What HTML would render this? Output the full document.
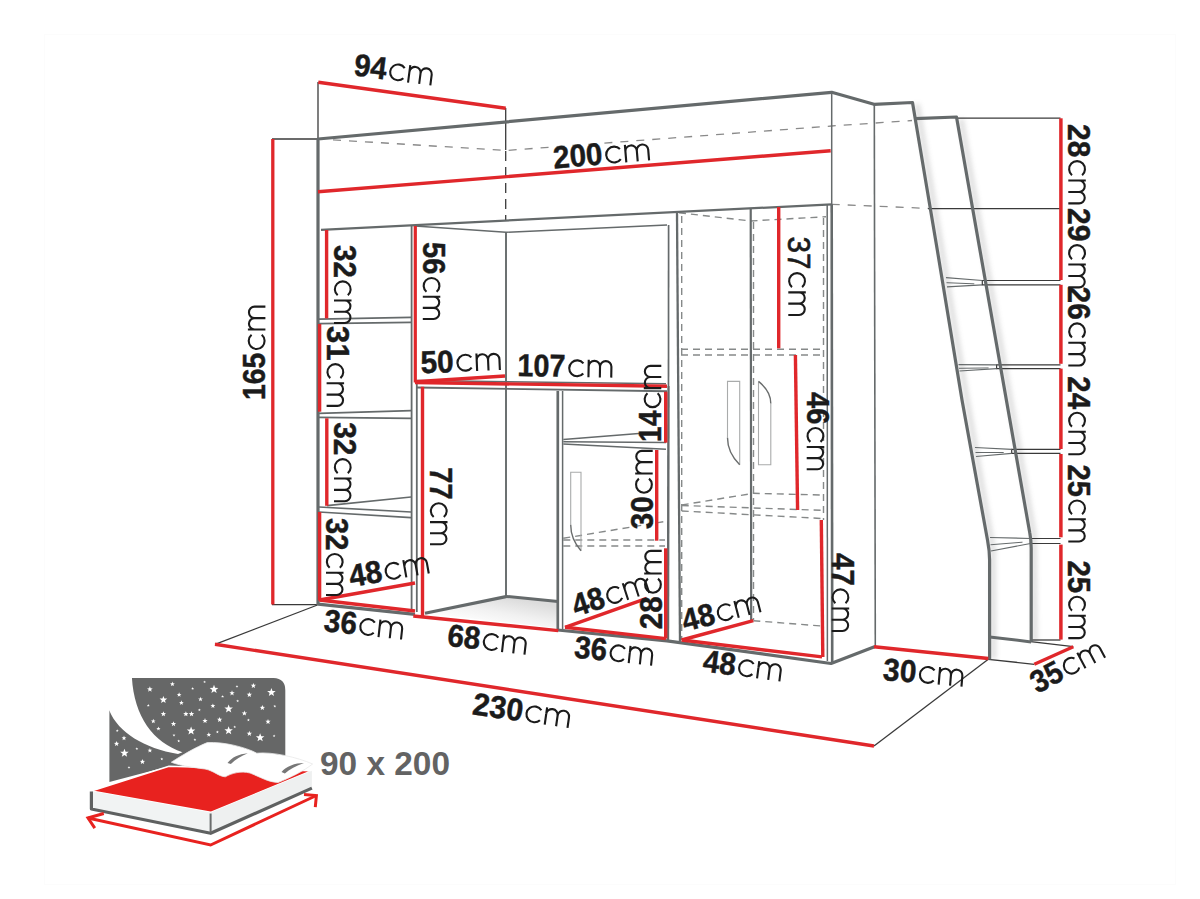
<!DOCTYPE html>
<html><head><meta charset="utf-8"><title>Loft bed dimensions</title>
<style>
html,body{margin:0;padding:0;background:#fff;}
body{width:1200px;height:899px;overflow:hidden;font-family:"Liberation Sans",sans-serif;}
svg{display:block;}
svg text{font-family:"Liberation Sans",sans-serif;}
</style></head>
<body>
<svg width="1200" height="899" viewBox="0 0 1200 899">
<defs>
<filter id="blur" x="-20%" y="-5%" width="140%" height="110%"><feGaussianBlur stdDeviation="2.5"/></filter>
<linearGradient id="floorg" gradientUnits="userSpaceOnUse" x1="500" y1="596" x2="494" y2="628"><stop offset="0" stop-color="#dcdcdc"/><stop offset="0.5" stop-color="#f1f1f1"/><stop offset="1" stop-color="#ffffff"/></linearGradient>
</defs>
<rect width="1200" height="899" fill="#ffffff"/>
<rect x="44.5" y="34.5" width="1131" height="850" fill="none" stroke="#fcfcfc" stroke-width="1"/>
<g filter="url(#blur)" opacity="0.26">
<path d="M917,104 L967,400 L993,550 L993.5,659" stroke="#777" stroke-width="5" fill="none" stroke-linejoin="round" stroke-linecap="butt"/>
<path d="M961,119 L1034,535 L1035,642" stroke="#777" stroke-width="5" fill="none" stroke-linejoin="round" stroke-linecap="butt"/>
</g>
<polygon points="425,613.5 506,596.8 557,602 557,628" fill="url(#floorg)"/>
<line x1="318" y1="82" x2="318" y2="139" stroke="#3a3a3a" stroke-width="1.3" stroke-linecap="butt"/>
<line x1="505.7" y1="108" x2="505.7" y2="150" stroke="#3a3a3a" stroke-width="1.3" stroke-linecap="butt"/>
<line x1="505.7" y1="151" x2="505.7" y2="221" stroke="#3a3a3a" stroke-width="1.3" stroke-linecap="butt" stroke-dasharray="10 6"/>
<line x1="272" y1="139" x2="318" y2="139" stroke="#3a3a3a" stroke-width="1.3" stroke-linecap="butt"/>
<line x1="272" y1="604.6" x2="318" y2="604.6" stroke="#3a3a3a" stroke-width="1.3" stroke-linecap="butt"/>
<line x1="317.5" y1="605" x2="215" y2="644.3" stroke="#3a3a3a" stroke-width="1.3" stroke-linecap="butt"/>
<line x1="988.3" y1="659.3" x2="874" y2="746" stroke="#3a3a3a" stroke-width="1.3" stroke-linecap="butt"/>
<line x1="988.3" y1="659.3" x2="1034.3" y2="664.3" stroke="#3a3a3a" stroke-width="1.3" stroke-linecap="butt"/>
<line x1="1030.7" y1="641.7" x2="1073.3" y2="646.7" stroke="#3a3a3a" stroke-width="1.3" stroke-linecap="butt"/>
<line x1="957" y1="118.2" x2="1060.5" y2="118.2" stroke="#3a3a3a" stroke-width="1.3" stroke-linecap="butt"/>
<line x1="928" y1="208.6" x2="1060.5" y2="208.6" stroke="#3a3a3a" stroke-width="1.3" stroke-linecap="butt"/>
<line x1="1030.7" y1="640" x2="1060.5" y2="640" stroke="#3a3a3a" stroke-width="1.3" stroke-linecap="butt"/>
<path d="M1060.5,280.5 L982.3,280.5 L982.3,284.8 L1060.5,284.8" stroke="#3a3a3a" stroke-width="1.2" fill="none" stroke-linejoin="miter" stroke-linecap="butt"/>
<line x1="946" y1="277.6" x2="982.3" y2="280.5" stroke="#656a6b" stroke-width="1.2" stroke-linecap="butt"/>
<line x1="947" y1="286.8" x2="982.3" y2="284.8" stroke="#656a6b" stroke-width="1.2" stroke-linecap="butt"/>
<line x1="946.5" y1="282.70000000000005" x2="974.3" y2="283.84999999999997" stroke="#656a6b" stroke-width="1" stroke-linecap="butt"/>
<path d="M1060.5,364.9 L996.6,364.9 L996.6,368.6 L1060.5,368.6" stroke="#3a3a3a" stroke-width="1.2" fill="none" stroke-linejoin="miter" stroke-linecap="butt"/>
<line x1="958.5" y1="364.6" x2="996.6" y2="364.9" stroke="#656a6b" stroke-width="1.2" stroke-linecap="butt"/>
<line x1="959.5" y1="371" x2="996.6" y2="368.6" stroke="#656a6b" stroke-width="1.2" stroke-linecap="butt"/>
<line x1="959.0" y1="368.3" x2="988.6" y2="367.95" stroke="#656a6b" stroke-width="1" stroke-linecap="butt"/>
<path d="M1060.5,449.3 L1011.7,449.3 L1011.7,453.3 L1060.5,453.3" stroke="#3a3a3a" stroke-width="1.2" fill="none" stroke-linejoin="miter" stroke-linecap="butt"/>
<line x1="975" y1="447.5" x2="1011.7" y2="449.3" stroke="#656a6b" stroke-width="1.2" stroke-linecap="butt"/>
<line x1="976" y1="456.5" x2="1011.7" y2="453.3" stroke="#656a6b" stroke-width="1.2" stroke-linecap="butt"/>
<line x1="975.5" y1="452.5" x2="1003.7" y2="452.5" stroke="#656a6b" stroke-width="1" stroke-linecap="butt"/>
<path d="M1060.5,538.5 L1030.5,538.5 L1030.5,543.5 L1060.5,543.5" stroke="#3a3a3a" stroke-width="1.2" fill="none" stroke-linejoin="miter" stroke-linecap="butt"/>
<line x1="990" y1="537.5" x2="1030.5" y2="538.5" stroke="#656a6b" stroke-width="1.2" stroke-linecap="butt"/>
<line x1="991" y1="551" x2="1030.5" y2="543.5" stroke="#656a6b" stroke-width="1.2" stroke-linecap="butt"/>
<line x1="990.5" y1="544.75" x2="1022.5" y2="542.2" stroke="#656a6b" stroke-width="1" stroke-linecap="butt"/>
<path d="M333,139.8 L505.7,150.5 L831.7,126 L912,120.5" stroke="#8a8a8a" stroke-width="1.3" fill="none" stroke-linejoin="round" stroke-linecap="butt" stroke-dasharray="8 8"/>
<line x1="831.7" y1="204.3" x2="928" y2="208.4" stroke="#8a8a8a" stroke-width="1.3" stroke-linecap="butt" stroke-dasharray="8 8"/>
<path d="M679,212.7 L750.5,221 L826,216.7" stroke="#868989" stroke-width="1.4" fill="none" stroke-linejoin="round" stroke-linecap="butt" stroke-dasharray="7 5"/>
<line x1="681.7" y1="216" x2="681.7" y2="640" stroke="#868989" stroke-width="1.4" stroke-linecap="butt" stroke-dasharray="7 5"/>
<line x1="753.5" y1="222" x2="753.5" y2="620" stroke="#868989" stroke-width="1.4" stroke-linecap="butt" stroke-dasharray="7 5"/>
<line x1="823.5" y1="218" x2="823.5" y2="520" stroke="#868989" stroke-width="1.4" stroke-linecap="butt" stroke-dasharray="7 5"/>
<line x1="681" y1="349.3" x2="824" y2="349.3" stroke="#868989" stroke-width="1.4" stroke-linecap="butt" stroke-dasharray="7 5"/>
<line x1="681" y1="355" x2="824" y2="355" stroke="#868989" stroke-width="1.4" stroke-linecap="butt" stroke-dasharray="7 5"/>
<path d="M681.7,505 L753.3,493.3 L821.7,495" stroke="#868989" stroke-width="1.4" fill="none" stroke-linejoin="round" stroke-linecap="butt" stroke-dasharray="7 5"/>
<line x1="681.7" y1="505.5" x2="821.7" y2="510.3" stroke="#868989" stroke-width="1.4" stroke-linecap="butt" stroke-dasharray="7 5"/>
<line x1="681.7" y1="511" x2="821.7" y2="518.5" stroke="#868989" stroke-width="1.4" stroke-linecap="butt" stroke-dasharray="7 5"/>
<line x1="753.3" y1="620.7" x2="821.7" y2="626" stroke="#868989" stroke-width="1.4" stroke-linecap="butt" stroke-dasharray="7 5"/>
<line x1="563.3" y1="538.3" x2="663.3" y2="521.7" stroke="#868989" stroke-width="1.4" stroke-linecap="butt" stroke-dasharray="7 5"/>
<line x1="563.3" y1="540" x2="665" y2="540" stroke="#868989" stroke-width="1.4" stroke-linecap="butt" stroke-dasharray="7 5"/>
<line x1="563.3" y1="546" x2="665" y2="546" stroke="#868989" stroke-width="1.4" stroke-linecap="butt" stroke-dasharray="7 5"/>
<line x1="831.7" y1="92.3" x2="831.7" y2="205" stroke="#656a6b" stroke-width="1.5" stroke-linecap="butt"/>
<line x1="874.3" y1="104.3" x2="875.3" y2="647" stroke="#656a6b" stroke-width="1.6" stroke-linecap="butt"/>
<line x1="506" y1="232" x2="506" y2="596.5" stroke="#656a6b" stroke-width="1.9" stroke-linecap="butt"/>
<line x1="321" y1="229.8" x2="831.7" y2="204.3" stroke="#656a6b" stroke-width="2.2" stroke-linecap="butt"/>
<path d="M415,226 L506,232.3 L667,225" stroke="#656a6b" stroke-width="1.5" fill="none" stroke-linejoin="round" stroke-linecap="butt"/>
<line x1="411.6" y1="226" x2="411.6" y2="611.5" stroke="#656a6b" stroke-width="1.8" stroke-linecap="butt"/>
<line x1="416.8" y1="382" x2="416.8" y2="612" stroke="#656a6b" stroke-width="1.8" stroke-linecap="butt"/>
<line x1="319" y1="319.2" x2="411" y2="317.4" stroke="#656a6b" stroke-width="1.7" stroke-linecap="butt"/>
<line x1="319" y1="323.6" x2="411" y2="322.4" stroke="#656a6b" stroke-width="1.7" stroke-linecap="butt"/>
<line x1="319" y1="413.3" x2="411" y2="410.7" stroke="#656a6b" stroke-width="1.7" stroke-linecap="butt"/>
<line x1="319" y1="417.3" x2="411" y2="418.3" stroke="#656a6b" stroke-width="1.7" stroke-linecap="butt"/>
<line x1="327" y1="505.6" x2="411" y2="497" stroke="#656a6b" stroke-width="1.7" stroke-linecap="butt"/>
<line x1="319" y1="507" x2="411" y2="512" stroke="#656a6b" stroke-width="1.7" stroke-linecap="butt"/>
<line x1="319" y1="512" x2="411" y2="517.6" stroke="#656a6b" stroke-width="1.7" stroke-linecap="butt"/>
<line x1="416.7" y1="380.5" x2="666" y2="383.8" stroke="#656a6b" stroke-width="1.5" stroke-linecap="butt"/>
<line x1="416.7" y1="387.5" x2="667" y2="391.3" stroke="#656a6b" stroke-width="1.9" stroke-linecap="butt"/>
<line x1="557.8" y1="391" x2="557.8" y2="631" stroke="#656a6b" stroke-width="2.7" stroke-linecap="butt"/>
<line x1="562.6" y1="391" x2="562.6" y2="629" stroke="#656a6b" stroke-width="1.5" stroke-linecap="butt"/>
<line x1="668.6" y1="225" x2="668.5" y2="386" stroke="#656a6b" stroke-width="1.7" stroke-linecap="butt"/>
<line x1="668.5" y1="386" x2="668" y2="641" stroke="#656a6b" stroke-width="2.4" stroke-linecap="butt"/>
<line x1="563.3" y1="439.6" x2="642" y2="433.3" stroke="#656a6b" stroke-width="1.5" stroke-linecap="butt"/>
<line x1="563.3" y1="441.7" x2="666" y2="442.5" stroke="#656a6b" stroke-width="1.5" stroke-linecap="butt"/>
<line x1="563.3" y1="444" x2="666" y2="449.3" stroke="#656a6b" stroke-width="1.5" stroke-linecap="butt"/>
<line x1="677" y1="213" x2="680" y2="641.5" stroke="#656a6b" stroke-width="2.3" stroke-linecap="butt"/>
<line x1="750.7" y1="208.5" x2="751.2" y2="621" stroke="#656a6b" stroke-width="2.2" stroke-linecap="butt"/>
<line x1="827.2" y1="204.5" x2="827.4" y2="661" stroke="#656a6b" stroke-width="1.5" stroke-linecap="butt"/>
<line x1="831.7" y1="204.3" x2="832.2" y2="663.5" stroke="#656a6b" stroke-width="2.6" stroke-linecap="butt"/>
<line x1="318" y1="604.2" x2="415" y2="614.4" stroke="#656a6b" stroke-width="3.2" stroke-linecap="butt"/>
<line x1="425" y1="613.3" x2="506" y2="596.6" stroke="#656a6b" stroke-width="3.2" stroke-linecap="butt"/>
<line x1="506" y1="596.4" x2="558" y2="601.5" stroke="#656a6b" stroke-width="3" stroke-linecap="butt"/>
<path d="M557.5,630 L667,640.8 L831,663.5 L874.5,646.7" stroke="#656a6b" stroke-width="3.2" fill="none" stroke-linejoin="round" stroke-linecap="butt"/>
<path d="M318,605 L318,139 L831.7,92.3 L874,104.3 L912.5,102.5 L937.3,250 L962,400 L987.5,540 Q989.6,551 989.6,560 L989.6,659.5" stroke="#656a6b" stroke-width="3.2" fill="none" stroke-linejoin="round" stroke-linecap="butt"/>
<path d="M915,118.6 L956.5,117 L1029.8,533 Q1031.2,540 1031.2,548 L1031.2,642" stroke="#656a6b" stroke-width="3.2" fill="none" stroke-linejoin="round" stroke-linecap="butt"/>
<line x1="989.6" y1="637" x2="1031.2" y2="641.9" stroke="#656a6b" stroke-width="3" stroke-linecap="butt"/>
<path d="M727.5,437.8 L727.5,381.4 L739.7,381.4 L739.7,464.8" stroke="#a9abab" stroke-width="1.1" fill="none" stroke-linejoin="miter" stroke-linecap="butt"/>
<path d="M727.5,437.8 Q727.5,452.65000000000003 739.7,464.8" stroke="#6a6d6d" stroke-width="1.4" fill="none" stroke-linejoin="round" stroke-linecap="butt"/>
<path d="M770.8,403.4 L770.8,464.8 L758.5,464.8 L758.5,381.4" stroke="#a9abab" stroke-width="1.1" fill="none" stroke-linejoin="miter" stroke-linecap="butt"/>
<path d="M758.5,381.4 Q770.8,391.29999999999995 770.8,403.4" stroke="#6a6d6d" stroke-width="1.4" fill="none" stroke-linejoin="round" stroke-linecap="butt"/>
<path d="M570.7,524.8 L570.7,472.3 L581,472.3 L581,550.8" stroke="#a9abab" stroke-width="1.1" fill="none" stroke-linejoin="miter" stroke-linecap="butt"/>
<path d="M570.7,524.8 Q570.7,539.0999999999999 581,550.8" stroke="#6a6d6d" stroke-width="1.4" fill="none" stroke-linejoin="round" stroke-linecap="butt"/>
<line x1="318.3" y1="82.3" x2="505.7" y2="108.3" stroke="#e0272b" stroke-width="3.4" stroke-linecap="butt"/>
<line x1="318" y1="191.7" x2="830.7" y2="150.7" stroke="#e0272b" stroke-width="3.4" stroke-linecap="butt"/>
<line x1="272.8" y1="139" x2="272.8" y2="604.5" stroke="#e0272b" stroke-width="3.3" stroke-linecap="butt"/>
<line x1="326.6" y1="230" x2="326.6" y2="318.4" stroke="#e0272b" stroke-width="3.4" stroke-linecap="butt"/>
<line x1="319.6" y1="324" x2="319.6" y2="411.7" stroke="#e0272b" stroke-width="3.4" stroke-linecap="butt"/>
<line x1="326.8" y1="418.3" x2="326.8" y2="505.8" stroke="#e0272b" stroke-width="3.4" stroke-linecap="butt"/>
<line x1="319.6" y1="512" x2="319.6" y2="600.5" stroke="#e0272b" stroke-width="3.4" stroke-linecap="butt"/>
<line x1="415.3" y1="226" x2="415.3" y2="382.5" stroke="#e0272b" stroke-width="3.2" stroke-linecap="butt"/>
<line x1="415" y1="381.7" x2="505" y2="376" stroke="#e0272b" stroke-width="3.4" stroke-linecap="butt"/>
<line x1="415" y1="382.5" x2="667" y2="386.3" stroke="#e0272b" stroke-width="3.4" stroke-linecap="butt"/>
<line x1="422.5" y1="386.7" x2="422.5" y2="616" stroke="#e0272b" stroke-width="3.4" stroke-linecap="butt"/>
<line x1="319.4" y1="600" x2="415" y2="583" stroke="#e0272b" stroke-width="3.4" stroke-linecap="butt"/>
<line x1="319.4" y1="600" x2="415" y2="611" stroke="#e0272b" stroke-width="3.4" stroke-linecap="butt"/>
<line x1="413.3" y1="616" x2="558.3" y2="630.6" stroke="#e0272b" stroke-width="3.4" stroke-linecap="butt"/>
<line x1="665.7" y1="391.7" x2="665.7" y2="442.7" stroke="#e0272b" stroke-width="3.4" stroke-linecap="butt"/>
<line x1="656.7" y1="450" x2="656.7" y2="540.7" stroke="#e0272b" stroke-width="3.4" stroke-linecap="butt"/>
<line x1="665.7" y1="548.3" x2="665.7" y2="638.6" stroke="#e0272b" stroke-width="3.4" stroke-linecap="butt"/>
<line x1="565" y1="627.3" x2="646.7" y2="598.3" stroke="#e0272b" stroke-width="3.4" stroke-linecap="butt"/>
<line x1="565" y1="627.3" x2="666" y2="638.6" stroke="#e0272b" stroke-width="3.4" stroke-linecap="butt"/>
<line x1="778.7" y1="207" x2="778.7" y2="348.3" stroke="#e0272b" stroke-width="3.4" stroke-linecap="butt"/>
<line x1="795.4" y1="355" x2="797.6" y2="510" stroke="#e0272b" stroke-width="3.4" stroke-linecap="butt"/>
<line x1="821.3" y1="520" x2="822.8" y2="657" stroke="#e0272b" stroke-width="3.4" stroke-linecap="butt"/>
<line x1="681.7" y1="640" x2="753.3" y2="620.7" stroke="#e0272b" stroke-width="3.4" stroke-linecap="butt"/>
<line x1="681.7" y1="640" x2="822" y2="656.9" stroke="#e0272b" stroke-width="3.4" stroke-linecap="butt"/>
<line x1="874" y1="646.7" x2="988.3" y2="658.5" stroke="#e0272b" stroke-width="3.4" stroke-linecap="butt"/>
<line x1="1073.3" y1="646.7" x2="1034.3" y2="664.3" stroke="#e0272b" stroke-width="3.4" stroke-linecap="butt"/>
<line x1="215" y1="644.3" x2="874" y2="746" stroke="#e0272b" stroke-width="3.4" stroke-linecap="butt"/>
<line x1="1060.9" y1="118.3" x2="1060.9" y2="280" stroke="#e0272b" stroke-width="3.5" stroke-linecap="butt"/>
<line x1="1060.9" y1="284.8" x2="1060.9" y2="363.8" stroke="#e0272b" stroke-width="3.5" stroke-linecap="butt"/>
<line x1="1060.9" y1="368.6" x2="1060.9" y2="449" stroke="#e0272b" stroke-width="3.5" stroke-linecap="butt"/>
<line x1="1060.9" y1="454" x2="1060.9" y2="537.3" stroke="#e0272b" stroke-width="3.5" stroke-linecap="butt"/>
<line x1="1060.9" y1="544.6" x2="1060.9" y2="639.6" stroke="#e0272b" stroke-width="3.5" stroke-linecap="butt"/>
<g transform="translate(354,75.5) rotate(7.4) scale(0.9981,1)"><text x="-1" y="0" font-size="31.5" font-weight="700" stroke="#1b1b1b" stroke-width="0.45" fill="#1b1b1b" textLength="32.8" lengthAdjust="spacingAndGlyphs">94</text><path d="M49.40,-13.83 A7.90,7.90 0 1 0 49.40,-3.67 M54.60,0 L54.60,-17.50 M54.60,-10.82 A5.62,5.62 0 0 1 65.85,-10.82 L65.85,0 M65.85,-10.82 A5.62,5.62 0 0 1 77.10,-10.82 L77.10,0" stroke="#1b1b1b" stroke-width="2.1" fill="none" stroke-linecap="butt" stroke-linejoin="round"/></g>
<g transform="translate(555,168.3) rotate(-4.8) scale(1.0154,1)"><text x="-1" y="0" font-size="31.5" font-weight="700" stroke="#1b1b1b" stroke-width="0.45" fill="#1b1b1b" textLength="48.7" lengthAdjust="spacingAndGlyphs">200</text><path d="M65.30,-13.83 A7.90,7.90 0 1 0 65.30,-3.67 M70.50,0 L70.50,-17.50 M70.50,-10.82 A5.62,5.62 0 0 1 81.75,-10.82 L81.75,0 M81.75,-10.82 A5.62,5.62 0 0 1 93.00,-10.82 L93.00,0" stroke="#1b1b1b" stroke-width="2.1" fill="none" stroke-linecap="butt" stroke-linejoin="round"/></g>
<g transform="translate(265.4,399) rotate(-90) scale(1.0158,1)"><text x="-1" y="0" font-size="31.5" font-weight="700" stroke="#1b1b1b" stroke-width="0.45" fill="#1b1b1b" textLength="46.6" lengthAdjust="spacingAndGlyphs">165</text><path d="M63.20,-13.83 A7.90,7.90 0 1 0 63.20,-3.67 M68.40,0 L68.40,-17.50 M68.40,-10.82 A5.62,5.62 0 0 1 79.65,-10.82 L79.65,0 M79.65,-10.82 A5.62,5.62 0 0 1 90.90,-10.82 L90.90,0" stroke="#1b1b1b" stroke-width="2.1" fill="none" stroke-linecap="butt" stroke-linejoin="round"/></g>
<g transform="translate(334,246) rotate(90) scale(0.9981,1)"><text x="-1" y="0" font-size="31.5" font-weight="700" stroke="#1b1b1b" stroke-width="0.45" fill="#1b1b1b" textLength="32.8" lengthAdjust="spacingAndGlyphs">32</text><path d="M49.40,-13.83 A7.90,7.90 0 1 0 49.40,-3.67 M54.60,0 L54.60,-17.50 M54.60,-10.82 A5.62,5.62 0 0 1 65.85,-10.82 L65.85,0 M65.85,-10.82 A5.62,5.62 0 0 1 77.10,-10.82 L77.10,0" stroke="#1b1b1b" stroke-width="2.1" fill="none" stroke-linecap="butt" stroke-linejoin="round"/></g>
<g transform="translate(422.8,243) rotate(90) scale(0.9853,1)"><text x="-1" y="0" font-size="31.5" font-weight="700" stroke="#1b1b1b" stroke-width="0.45" fill="#1b1b1b" textLength="32.8" lengthAdjust="spacingAndGlyphs">56</text><path d="M49.40,-13.83 A7.90,7.90 0 1 0 49.40,-3.67 M54.60,0 L54.60,-17.50 M54.60,-10.82 A5.62,5.62 0 0 1 65.85,-10.82 L65.85,0 M65.85,-10.82 A5.62,5.62 0 0 1 77.10,-10.82 L77.10,0" stroke="#1b1b1b" stroke-width="2.1" fill="none" stroke-linecap="butt" stroke-linejoin="round"/></g>
<g transform="translate(326.6,326.9) rotate(90) scale(1.0019,1)"><text x="-1" y="0" font-size="31.5" font-weight="700" stroke="#1b1b1b" stroke-width="0.45" fill="#1b1b1b" textLength="34.5" lengthAdjust="spacingAndGlyphs">31</text><path d="M51.10,-13.83 A7.90,7.90 0 1 0 51.10,-3.67 M56.30,0 L56.30,-17.50 M56.30,-10.82 A5.62,5.62 0 0 1 67.55,-10.82 L67.55,0 M67.55,-10.82 A5.62,5.62 0 0 1 78.80,-10.82 L78.80,0" stroke="#1b1b1b" stroke-width="2.1" fill="none" stroke-linecap="butt" stroke-linejoin="round"/></g>
<g transform="translate(422,373.3) rotate(-2.4) scale(1.0109,1)"><text x="-1" y="0" font-size="31.5" font-weight="700" stroke="#1b1b1b" stroke-width="0.45" fill="#1b1b1b" textLength="32.8" lengthAdjust="spacingAndGlyphs">50</text><path d="M49.40,-13.83 A7.90,7.90 0 1 0 49.40,-3.67 M54.60,0 L54.60,-17.50 M54.60,-10.82 A5.62,5.62 0 0 1 65.85,-10.82 L65.85,0 M65.85,-10.82 A5.62,5.62 0 0 1 77.10,-10.82 L77.10,0" stroke="#1b1b1b" stroke-width="2.1" fill="none" stroke-linecap="butt" stroke-linejoin="round"/></g>
<g transform="translate(518.3,376) rotate(1) scale(1.0124,1)"><text x="-1" y="0" font-size="31.5" font-weight="700" stroke="#1b1b1b" stroke-width="0.45" fill="#1b1b1b" textLength="47.5" lengthAdjust="spacingAndGlyphs">107</text><path d="M64.10,-13.83 A7.90,7.90 0 1 0 64.10,-3.67 M69.30,0 L69.30,-17.50 M69.30,-10.82 A5.62,5.62 0 0 1 80.55,-10.82 L80.55,0 M80.55,-10.82 A5.62,5.62 0 0 1 91.80,-10.82 L91.80,0" stroke="#1b1b1b" stroke-width="2.1" fill="none" stroke-linecap="butt" stroke-linejoin="round"/></g>
<g transform="translate(788.3,237.5) rotate(90) scale(1.0045,1)"><text x="-1" y="0" font-size="31.5" font-weight="400" stroke="#1b1b1b" stroke-width="0.7" fill="#1b1b1b" textLength="32.8" lengthAdjust="spacingAndGlyphs">37</text><path d="M49.40,-13.83 A7.90,7.90 0 1 0 49.40,-3.67 M54.60,0 L54.60,-17.50 M54.60,-10.82 A5.62,5.62 0 0 1 65.85,-10.82 L65.85,0 M65.85,-10.82 A5.62,5.62 0 0 1 77.10,-10.82 L77.10,0" stroke="#1b1b1b" stroke-width="2.1" fill="none" stroke-linecap="butt" stroke-linejoin="round"/></g>
<g transform="translate(661.3,441) rotate(-90) scale(0.9915,1)"><text x="-1" y="0" font-size="31.5" font-weight="700" stroke="#1b1b1b" stroke-width="0.45" fill="#1b1b1b" textLength="31.5" lengthAdjust="spacingAndGlyphs">14</text><path d="M48.10,-13.83 A7.90,7.90 0 1 0 48.10,-3.67 M53.30,0 L53.30,-17.50 M53.30,-10.82 A5.62,5.62 0 0 1 64.55,-10.82 L64.55,0 M64.55,-10.82 A5.62,5.62 0 0 1 75.80,-10.82 L75.80,0" stroke="#1b1b1b" stroke-width="2.1" fill="none" stroke-linecap="butt" stroke-linejoin="round"/></g>
<g transform="translate(806.7,393) rotate(90) scale(0.9891,1)"><text x="-1" y="0" font-size="31.5" font-weight="700" stroke="#1b1b1b" stroke-width="0.45" fill="#1b1b1b" textLength="32.8" lengthAdjust="spacingAndGlyphs">46</text><path d="M49.40,-13.83 A7.90,7.90 0 1 0 49.40,-3.67 M54.60,0 L54.60,-17.50 M54.60,-10.82 A5.62,5.62 0 0 1 65.85,-10.82 L65.85,0 M65.85,-10.82 A5.62,5.62 0 0 1 77.10,-10.82 L77.10,0" stroke="#1b1b1b" stroke-width="2.1" fill="none" stroke-linecap="butt" stroke-linejoin="round"/></g>
<g transform="translate(334,423.3) rotate(90) scale(1.0109,1)"><text x="-1" y="0" font-size="31.5" font-weight="700" stroke="#1b1b1b" stroke-width="0.45" fill="#1b1b1b" textLength="32.8" lengthAdjust="spacingAndGlyphs">32</text><path d="M49.40,-13.83 A7.90,7.90 0 1 0 49.40,-3.67 M54.60,0 L54.60,-17.50 M54.60,-10.82 A5.62,5.62 0 0 1 65.85,-10.82 L65.85,0 M65.85,-10.82 A5.62,5.62 0 0 1 77.10,-10.82 L77.10,0" stroke="#1b1b1b" stroke-width="2.1" fill="none" stroke-linecap="butt" stroke-linejoin="round"/></g>
<g transform="translate(430,468.3) rotate(90) scale(0.9853,1)"><text x="-1" y="0" font-size="31.5" font-weight="700" stroke="#1b1b1b" stroke-width="0.45" fill="#1b1b1b" textLength="32.8" lengthAdjust="spacingAndGlyphs">77</text><path d="M49.40,-13.83 A7.90,7.90 0 1 0 49.40,-3.67 M54.60,0 L54.60,-17.50 M54.60,-10.82 A5.62,5.62 0 0 1 65.85,-10.82 L65.85,0 M65.85,-10.82 A5.62,5.62 0 0 1 77.10,-10.82 L77.10,0" stroke="#1b1b1b" stroke-width="2.1" fill="none" stroke-linecap="butt" stroke-linejoin="round"/></g>
<g transform="translate(652.7,528.3) rotate(-90) scale(1.0045,1)"><text x="-1" y="0" font-size="31.5" font-weight="700" stroke="#1b1b1b" stroke-width="0.45" fill="#1b1b1b" textLength="32.8" lengthAdjust="spacingAndGlyphs">30</text><path d="M49.40,-13.83 A7.90,7.90 0 1 0 49.40,-3.67 M54.60,0 L54.60,-17.50 M54.60,-10.82 A5.62,5.62 0 0 1 65.85,-10.82 L65.85,0 M65.85,-10.82 A5.62,5.62 0 0 1 77.10,-10.82 L77.10,0" stroke="#1b1b1b" stroke-width="2.1" fill="none" stroke-linecap="butt" stroke-linejoin="round"/></g>
<g transform="translate(326,519) rotate(90) scale(0.9853,1)"><text x="-1" y="0" font-size="31.5" font-weight="700" stroke="#1b1b1b" stroke-width="0.45" fill="#1b1b1b" textLength="32.8" lengthAdjust="spacingAndGlyphs">32</text><path d="M49.40,-13.83 A7.90,7.90 0 1 0 49.40,-3.67 M54.60,0 L54.60,-17.50 M54.60,-10.82 A5.62,5.62 0 0 1 65.85,-10.82 L65.85,0 M65.85,-10.82 A5.62,5.62 0 0 1 77.10,-10.82 L77.10,0" stroke="#1b1b1b" stroke-width="2.1" fill="none" stroke-linecap="butt" stroke-linejoin="round"/></g>
<g transform="translate(352,587) rotate(-10) scale(1.0109,1)"><text x="-1" y="0" font-size="31.5" font-weight="700" stroke="#1b1b1b" stroke-width="0.45" fill="#1b1b1b" textLength="32.8" lengthAdjust="spacingAndGlyphs">48</text><path d="M49.40,-13.83 A7.90,7.90 0 1 0 49.40,-3.67 M54.60,0 L54.60,-17.50 M54.60,-10.82 A5.62,5.62 0 0 1 65.85,-10.82 L65.85,0 M65.85,-10.82 A5.62,5.62 0 0 1 77.10,-10.82 L77.10,0" stroke="#1b1b1b" stroke-width="2.1" fill="none" stroke-linecap="butt" stroke-linejoin="round"/></g>
<g transform="translate(324,631) rotate(6.3) scale(1.0045,1)"><text x="-1" y="0" font-size="31.5" font-weight="700" stroke="#1b1b1b" stroke-width="0.45" fill="#1b1b1b" textLength="32.8" lengthAdjust="spacingAndGlyphs">36</text><path d="M49.40,-13.83 A7.90,7.90 0 1 0 49.40,-3.67 M54.60,0 L54.60,-17.50 M54.60,-10.82 A5.62,5.62 0 0 1 65.85,-10.82 L65.85,0 M65.85,-10.82 A5.62,5.62 0 0 1 77.10,-10.82 L77.10,0" stroke="#1b1b1b" stroke-width="2.1" fill="none" stroke-linecap="butt" stroke-linejoin="round"/></g>
<g transform="translate(447.5,645.8) rotate(6.5) scale(1.0045,1)"><text x="-1" y="0" font-size="31.5" font-weight="700" stroke="#1b1b1b" stroke-width="0.45" fill="#1b1b1b" textLength="32.8" lengthAdjust="spacingAndGlyphs">68</text><path d="M49.40,-13.83 A7.90,7.90 0 1 0 49.40,-3.67 M54.60,0 L54.60,-17.50 M54.60,-10.82 A5.62,5.62 0 0 1 65.85,-10.82 L65.85,0 M65.85,-10.82 A5.62,5.62 0 0 1 77.10,-10.82 L77.10,0" stroke="#1b1b1b" stroke-width="2.1" fill="none" stroke-linecap="butt" stroke-linejoin="round"/></g>
<g transform="translate(577,616.5) rotate(-18) scale(0.9853,1)"><text x="-1" y="0" font-size="31.5" font-weight="700" stroke="#1b1b1b" stroke-width="0.45" fill="#1b1b1b" textLength="32.8" lengthAdjust="spacingAndGlyphs">48</text><path d="M49.40,-13.83 A7.90,7.90 0 1 0 49.40,-3.67 M54.60,0 L54.60,-17.50 M54.60,-10.82 A5.62,5.62 0 0 1 65.85,-10.82 L65.85,0 M65.85,-10.82 A5.62,5.62 0 0 1 77.10,-10.82 L77.10,0" stroke="#1b1b1b" stroke-width="2.1" fill="none" stroke-linecap="butt" stroke-linejoin="round"/></g>
<g transform="translate(661.7,628.3) rotate(-90) scale(1.0045,1)"><text x="-1" y="0" font-size="31.5" font-weight="700" stroke="#1b1b1b" stroke-width="0.45" fill="#1b1b1b" textLength="32.8" lengthAdjust="spacingAndGlyphs">28</text><path d="M49.40,-13.83 A7.90,7.90 0 1 0 49.40,-3.67 M54.60,0 L54.60,-17.50 M54.60,-10.82 A5.62,5.62 0 0 1 65.85,-10.82 L65.85,0 M65.85,-10.82 A5.62,5.62 0 0 1 77.10,-10.82 L77.10,0" stroke="#1b1b1b" stroke-width="2.1" fill="none" stroke-linecap="butt" stroke-linejoin="round"/></g>
<g transform="translate(574.5,657.5) rotate(6) scale(0.9981,1)"><text x="-1" y="0" font-size="31.5" font-weight="700" stroke="#1b1b1b" stroke-width="0.45" fill="#1b1b1b" textLength="32.8" lengthAdjust="spacingAndGlyphs">36</text><path d="M49.40,-13.83 A7.90,7.90 0 1 0 49.40,-3.67 M54.60,0 L54.60,-17.50 M54.60,-10.82 A5.62,5.62 0 0 1 65.85,-10.82 L65.85,0 M65.85,-10.82 A5.62,5.62 0 0 1 77.10,-10.82 L77.10,0" stroke="#1b1b1b" stroke-width="2.1" fill="none" stroke-linecap="butt" stroke-linejoin="round"/></g>
<g transform="translate(686,631.5) rotate(-14.5) scale(0.9981,1)"><text x="-1" y="0" font-size="31.5" font-weight="700" stroke="#1b1b1b" stroke-width="0.45" fill="#1b1b1b" textLength="32.8" lengthAdjust="spacingAndGlyphs">48</text><path d="M49.40,-13.83 A7.90,7.90 0 1 0 49.40,-3.67 M54.60,0 L54.60,-17.50 M54.60,-10.82 A5.62,5.62 0 0 1 65.85,-10.82 L65.85,0 M65.85,-10.82 A5.62,5.62 0 0 1 77.10,-10.82 L77.10,0" stroke="#1b1b1b" stroke-width="2.1" fill="none" stroke-linecap="butt" stroke-linejoin="round"/></g>
<g transform="translate(703,671.5) rotate(7.3) scale(0.9981,1)"><text x="-1" y="0" font-size="31.5" font-weight="700" stroke="#1b1b1b" stroke-width="0.45" fill="#1b1b1b" textLength="32.8" lengthAdjust="spacingAndGlyphs">48</text><path d="M49.40,-13.83 A7.90,7.90 0 1 0 49.40,-3.67 M54.60,0 L54.60,-17.50 M54.60,-10.82 A5.62,5.62 0 0 1 65.85,-10.82 L65.85,0 M65.85,-10.82 A5.62,5.62 0 0 1 77.10,-10.82 L77.10,0" stroke="#1b1b1b" stroke-width="2.1" fill="none" stroke-linecap="butt" stroke-linejoin="round"/></g>
<g transform="translate(831.7,554) rotate(90) scale(0.9981,1)"><text x="-1" y="0" font-size="31.5" font-weight="700" stroke="#1b1b1b" stroke-width="0.45" fill="#1b1b1b" textLength="32.8" lengthAdjust="spacingAndGlyphs">47</text><path d="M49.40,-13.83 A7.90,7.90 0 1 0 49.40,-3.67 M54.60,0 L54.60,-17.50 M54.60,-10.82 A5.62,5.62 0 0 1 65.85,-10.82 L65.85,0 M65.85,-10.82 A5.62,5.62 0 0 1 77.10,-10.82 L77.10,0" stroke="#1b1b1b" stroke-width="2.1" fill="none" stroke-linecap="butt" stroke-linejoin="round"/></g>
<g transform="translate(883.3,680) rotate(4.8) scale(1.0173,1)"><text x="-1" y="0" font-size="31.5" font-weight="700" stroke="#1b1b1b" stroke-width="0.45" fill="#1b1b1b" textLength="32.8" lengthAdjust="spacingAndGlyphs">30</text><path d="M49.40,-13.83 A7.90,7.90 0 1 0 49.40,-3.67 M54.60,0 L54.60,-17.50 M54.60,-10.82 A5.62,5.62 0 0 1 65.85,-10.82 L65.85,0 M65.85,-10.82 A5.62,5.62 0 0 1 77.10,-10.82 L77.10,0" stroke="#1b1b1b" stroke-width="2.1" fill="none" stroke-linecap="butt" stroke-linejoin="round"/></g>
<g transform="translate(1038,693.5) rotate(-28) scale(0.9853,1)"><text x="-1" y="0" font-size="31.5" font-weight="700" stroke="#1b1b1b" stroke-width="0.45" fill="#1b1b1b" textLength="32.8" lengthAdjust="spacingAndGlyphs">35</text><path d="M49.40,-13.83 A7.90,7.90 0 1 0 49.40,-3.67 M54.60,0 L54.60,-17.50 M54.60,-10.82 A5.62,5.62 0 0 1 65.85,-10.82 L65.85,0 M65.85,-10.82 A5.62,5.62 0 0 1 77.10,-10.82 L77.10,0" stroke="#1b1b1b" stroke-width="2.1" fill="none" stroke-linecap="butt" stroke-linejoin="round"/></g>
<g transform="translate(472.5,714.5) rotate(8) scale(1.0227,1)"><text x="-1" y="0" font-size="31.5" font-weight="700" stroke="#1b1b1b" stroke-width="0.45" fill="#1b1b1b" textLength="49.5" lengthAdjust="spacingAndGlyphs">230</text><path d="M66.10,-13.83 A7.90,7.90 0 1 0 66.10,-3.67 M71.30,0 L71.30,-17.50 M71.30,-10.82 A5.62,5.62 0 0 1 82.55,-10.82 L82.55,0 M82.55,-10.82 A5.62,5.62 0 0 1 93.80,-10.82 L93.80,0" stroke="#1b1b1b" stroke-width="2.1" fill="none" stroke-linecap="butt" stroke-linejoin="round"/></g>
<g transform="translate(1068.3,125) rotate(90) scale(1.0173,1)"><text x="-1" y="0" font-size="31.5" font-weight="700" stroke="#1b1b1b" stroke-width="0.45" fill="#1b1b1b" textLength="32.8" lengthAdjust="spacingAndGlyphs">28</text><path d="M49.40,-13.83 A7.90,7.90 0 1 0 49.40,-3.67 M54.60,0 L54.60,-17.50 M54.60,-10.82 A5.62,5.62 0 0 1 65.85,-10.82 L65.85,0 M65.85,-10.82 A5.62,5.62 0 0 1 77.10,-10.82 L77.10,0" stroke="#1b1b1b" stroke-width="2.1" fill="none" stroke-linecap="butt" stroke-linejoin="round"/></g>
<g transform="translate(1068.3,209) rotate(90) scale(1.0173,1)"><text x="-1" y="0" font-size="31.5" font-weight="700" stroke="#1b1b1b" stroke-width="0.45" fill="#1b1b1b" textLength="32.8" lengthAdjust="spacingAndGlyphs">29</text><path d="M49.40,-13.83 A7.90,7.90 0 1 0 49.40,-3.67 M54.60,0 L54.60,-17.50 M54.60,-10.82 A5.62,5.62 0 0 1 65.85,-10.82 L65.85,0 M65.85,-10.82 A5.62,5.62 0 0 1 77.10,-10.82 L77.10,0" stroke="#1b1b1b" stroke-width="2.1" fill="none" stroke-linecap="butt" stroke-linejoin="round"/></g>
<g transform="translate(1068.3,287.6) rotate(90) scale(1.0109,1)"><text x="-1" y="0" font-size="31.5" font-weight="700" stroke="#1b1b1b" stroke-width="0.45" fill="#1b1b1b" textLength="32.8" lengthAdjust="spacingAndGlyphs">26</text><path d="M49.40,-13.83 A7.90,7.90 0 1 0 49.40,-3.67 M54.60,0 L54.60,-17.50 M54.60,-10.82 A5.62,5.62 0 0 1 65.85,-10.82 L65.85,0 M65.85,-10.82 A5.62,5.62 0 0 1 77.10,-10.82 L77.10,0" stroke="#1b1b1b" stroke-width="2.1" fill="none" stroke-linecap="butt" stroke-linejoin="round"/></g>
<g transform="translate(1068.3,377.3) rotate(90) scale(0.9981,1)"><text x="-1" y="0" font-size="31.5" font-weight="700" stroke="#1b1b1b" stroke-width="0.45" fill="#1b1b1b" textLength="32.8" lengthAdjust="spacingAndGlyphs">24</text><path d="M49.40,-13.83 A7.90,7.90 0 1 0 49.40,-3.67 M54.60,0 L54.60,-17.50 M54.60,-10.82 A5.62,5.62 0 0 1 65.85,-10.82 L65.85,0 M65.85,-10.82 A5.62,5.62 0 0 1 77.10,-10.82 L77.10,0" stroke="#1b1b1b" stroke-width="2.1" fill="none" stroke-linecap="butt" stroke-linejoin="round"/></g>
<g transform="translate(1068.3,465.5) rotate(90) scale(0.9853,1)"><text x="-1" y="0" font-size="31.5" font-weight="700" stroke="#1b1b1b" stroke-width="0.45" fill="#1b1b1b" textLength="32.8" lengthAdjust="spacingAndGlyphs">25</text><path d="M49.40,-13.83 A7.90,7.90 0 1 0 49.40,-3.67 M54.60,0 L54.60,-17.50 M54.60,-10.82 A5.62,5.62 0 0 1 65.85,-10.82 L65.85,0 M65.85,-10.82 A5.62,5.62 0 0 1 77.10,-10.82 L77.10,0" stroke="#1b1b1b" stroke-width="2.1" fill="none" stroke-linecap="butt" stroke-linejoin="round"/></g>
<g transform="translate(1068.3,561.5) rotate(90) scale(0.9942,1)"><text x="-1" y="0" font-size="31.5" font-weight="700" stroke="#1b1b1b" stroke-width="0.45" fill="#1b1b1b" textLength="32.8" lengthAdjust="spacingAndGlyphs">25</text><path d="M49.40,-13.83 A7.90,7.90 0 1 0 49.40,-3.67 M54.60,0 L54.60,-17.50 M54.60,-10.82 A5.62,5.62 0 0 1 65.85,-10.82 L65.85,0 M65.85,-10.82 A5.62,5.62 0 0 1 77.10,-10.82 L77.10,0" stroke="#1b1b1b" stroke-width="2.1" fill="none" stroke-linecap="butt" stroke-linejoin="round"/></g>

<g>
<path d="M131.9,678.1 L273.6,678.1 Q285.3,678.5 285.3,690.2 L285.3,764.0 L169.0,766.3 L109.4,782.0 L109.4,711.1 Z" fill="#666767"/>
<path d="M131.9,677.6 C134.1,716.8 153.3,742.6 182.5,752.3 L178.0,753.9 C144.3,748.3 118.4,732.5 109.4,710.7 L108.9,677.6 Z" fill="#fff"/>
<polygon points="149.9,686.3 150.6,688.3 152.7,688.4 151.1,689.7 151.6,691.7 149.9,690.6 148.1,691.7 148.7,689.7 147.0,688.4 149.1,688.3" fill="#fff"/><polygon points="172.4,681.6 173.0,683.3 174.8,683.4 173.4,684.5 173.9,686.1 172.4,685.2 170.9,686.1 171.4,684.5 170.0,683.4 171.8,683.3" fill="#fff"/><polygon points="214.0,684.8 215.1,687.8 218.3,687.9 215.8,689.9 216.7,692.9 214.0,691.2 211.4,692.9 212.2,689.9 209.7,687.9 212.9,687.8" fill="#fff"/><polygon points="271.4,688.0 272.5,690.9 275.7,691.1 273.2,693.0 274.0,696.1 271.4,694.3 268.8,696.1 269.6,693.0 267.1,691.1 270.3,690.9" fill="#fff"/><polygon points="253.4,682.9 254.1,684.8 256.1,684.8 254.5,686.1 255.0,688.0 253.4,686.9 251.7,688.0 252.3,686.1 250.7,684.8 252.7,684.8" fill="#fff"/><polygon points="163.4,695.9 164.4,698.5 167.2,698.6 165.0,700.4 165.7,703.1 163.4,701.6 161.0,703.1 161.8,700.4 159.6,698.6 162.4,698.5" fill="#fff"/><polygon points="179.1,692.2 179.8,693.9 181.5,693.9 180.1,695.0 180.6,696.7 179.1,695.8 177.7,696.7 178.1,695.0 176.8,693.9 178.5,693.9" fill="#fff"/><polygon points="181.4,700.3 182.0,702.0 183.8,702.0 182.4,703.1 182.9,704.8 181.4,703.9 179.9,704.8 180.4,703.1 179.0,702.0 180.8,702.0" fill="#fff"/><polygon points="200.5,696.7 201.1,698.4 202.9,698.4 201.5,699.5 202.0,701.2 200.5,700.3 199.0,701.2 199.5,699.5 198.1,698.4 199.9,698.4" fill="#fff"/><polygon points="232.0,690.3 232.7,692.2 234.7,692.3 233.1,693.5 233.7,695.4 232.0,694.3 230.4,695.4 230.9,693.5 229.4,692.3 231.3,692.2" fill="#fff"/><polygon points="249.3,691.9 250.0,693.8 252.0,693.8 250.5,695.1 251.0,697.0 249.3,695.9 247.7,697.0 248.2,695.1 246.7,693.8 248.7,693.8" fill="#fff"/><polygon points="228.6,704.4 229.8,707.4 232.9,707.5 230.4,709.5 231.3,712.5 228.6,710.8 226.0,712.5 226.8,709.5 224.4,707.5 227.5,707.4" fill="#fff"/><polygon points="212.9,703.5 213.5,705.1 215.3,705.2 213.9,706.3 214.4,708.0 212.9,707.0 211.4,708.0 211.9,706.3 210.5,705.2 212.3,705.1" fill="#fff"/><polygon points="262.4,705.0 263.1,706.8 265.1,706.9 263.5,708.1 264.0,710.0 262.4,708.9 260.7,710.0 261.3,708.1 259.7,706.9 261.7,706.8" fill="#fff"/><polygon points="163.4,711.3 164.1,713.1 166.0,713.2 164.5,714.4 165.0,716.3 163.4,715.2 161.7,716.3 162.3,714.4 160.7,713.2 162.7,713.1" fill="#fff"/><polygon points="185.9,711.3 186.6,713.1 188.5,713.2 187.0,714.4 187.5,716.3 185.9,715.2 184.2,716.3 184.8,714.4 183.2,713.2 185.2,713.1" fill="#fff"/><polygon points="191.5,711.3 192.2,713.1 194.2,713.2 192.6,714.4 193.2,716.3 191.5,715.2 189.9,716.3 190.4,714.4 188.8,713.2 190.8,713.1" fill="#fff"/><polygon points="244.4,710.6 245.1,712.4 247.1,712.5 245.5,713.7 246.0,715.6 244.4,714.6 242.7,715.6 243.3,713.7 241.7,712.5 243.7,712.4" fill="#fff"/><polygon points="205.0,718.0 205.7,719.9 207.7,719.9 206.1,721.2 206.7,723.1 205.0,722.0 203.4,723.1 203.9,721.2 202.4,719.9 204.3,719.9" fill="#fff"/><polygon points="219.6,716.9 220.3,718.7 222.3,718.8 220.8,720.0 221.3,721.9 219.6,720.9 218.0,721.9 218.5,720.0 217.0,718.8 218.9,718.7" fill="#fff"/><polygon points="153.3,718.8 153.9,720.4 155.6,720.5 154.3,721.6 154.7,723.3 153.3,722.3 151.8,723.3 152.3,721.6 150.9,720.5 152.6,720.4" fill="#fff"/><polygon points="173.5,721.2 174.2,723.0 176.2,723.1 174.6,724.3 175.2,726.2 173.5,725.1 171.9,726.2 172.4,724.3 170.8,723.1 172.8,723.0" fill="#fff"/><polygon points="158.4,726.5 159.0,727.9 160.5,728.0 159.3,729.0 159.7,730.5 158.4,729.6 157.1,730.5 157.6,729.0 156.3,728.0 157.9,727.9" fill="#fff"/><polygon points="191.1,726.4 192.2,729.4 195.3,729.5 192.9,731.5 193.7,734.6 191.1,732.8 188.4,734.6 189.3,731.5 186.8,729.5 190.0,729.4" fill="#fff"/><polygon points="228.6,726.2 229.8,729.2 232.9,729.3 230.4,731.3 231.3,734.3 228.6,732.6 226.0,734.3 226.8,731.3 224.4,729.3 227.5,729.2" fill="#fff"/><polygon points="260.1,733.2 261.3,736.2 264.4,736.3 261.9,738.3 262.8,741.3 260.1,739.6 257.5,741.3 258.3,738.3 255.9,736.3 259.0,736.2" fill="#fff"/><polygon points="249.3,730.8 250.0,732.7 252.0,732.8 250.5,734.0 251.0,735.9 249.3,734.8 247.7,735.9 248.2,734.0 246.7,732.8 248.7,732.7" fill="#fff"/><polygon points="268.0,718.9 268.7,720.8 270.7,720.8 269.1,722.1 269.7,724.0 268.0,722.9 266.4,724.0 266.9,722.1 265.4,720.8 267.3,720.8" fill="#fff"/><polygon points="208.8,732.3 209.5,733.9 211.2,734.0 209.8,735.1 210.3,736.8 208.8,735.8 207.4,736.8 207.8,735.1 206.5,734.0 208.2,733.9" fill="#fff"/><polygon points="124.0,735.6 124.6,737.3 126.4,737.4 125.0,738.5 125.5,740.2 124.0,739.2 122.5,740.2 123.0,738.5 121.6,737.4 123.4,737.3" fill="#fff"/><polygon points="116.6,741.0 117.3,742.8 119.2,742.9 117.7,744.1 118.2,746.0 116.6,744.9 114.9,746.0 115.5,744.1 113.9,742.9 115.9,742.8" fill="#fff"/><polygon points="124.5,748.7 125.6,751.7 128.7,751.8 126.3,753.8 127.1,756.8 124.5,755.1 121.8,756.8 122.7,753.8 120.2,751.8 123.3,751.7" fill="#fff"/><polygon points="149.9,748.0 150.5,749.7 152.3,749.7 150.9,750.8 151.4,752.5 149.9,751.6 148.4,752.5 148.9,750.8 147.5,749.7 149.3,749.7" fill="#fff"/><polygon points="142.5,759.0 143.1,760.8 145.1,760.9 143.6,762.1 144.1,764.0 142.5,762.9 140.8,764.0 141.3,762.1 139.8,760.9 141.8,760.8" fill="#fff"/><polygon points="161.8,757.6 162.2,758.5 163.2,758.6 162.4,759.3 162.7,760.3 161.8,759.7 160.9,760.3 161.2,759.3 160.4,758.6 161.4,758.5" fill="#fff"/><polygon points="129.0,765.9 129.3,766.9 130.4,766.9 129.6,767.6 129.8,768.6 129.0,768.0 128.1,768.6 128.4,767.6 127.5,766.9 128.6,766.9" fill="#fff"/><polygon points="192.6,687.1 193.0,688.1 194.1,688.2 193.2,688.8 193.5,689.8 192.6,689.3 191.8,689.8 192.0,688.8 191.2,688.2 192.3,688.1" fill="#fff"/><polygon points="237.0,684.9 237.3,685.9 238.4,685.9 237.6,686.6 237.8,687.6 237.0,687.0 236.1,687.6 236.4,686.6 235.5,685.9 236.6,685.9" fill="#fff"/><polygon points="237.6,699.5 238.0,700.5 239.1,700.5 238.2,701.2 238.5,702.2 237.6,701.6 236.8,702.2 237.0,701.2 236.2,700.5 237.3,700.5" fill="#fff"/><polygon points="148.3,704.0 148.7,705.0 149.7,705.0 148.9,705.7 149.2,706.7 148.3,706.1 147.4,706.7 147.7,705.7 146.9,705.0 147.9,705.0" fill="#fff"/><polygon points="199.4,708.5 199.8,709.5 200.8,709.5 200.0,710.2 200.3,711.2 199.4,710.6 198.5,711.2 198.8,710.2 198.0,709.5 199.0,709.5" fill="#fff"/><polygon points="274.8,704.7 275.1,705.7 276.2,705.7 275.4,706.4 275.7,707.4 274.8,706.8 273.9,707.4 274.2,706.4 273.3,705.7 274.4,705.7" fill="#fff"/><polygon points="248.4,718.6 248.8,719.6 249.9,719.7 249.0,720.3 249.3,721.3 248.4,720.8 247.6,721.3 247.8,720.3 247.0,719.7 248.1,719.6" fill="#fff"/><polygon points="217.4,730.6 217.8,731.5 218.8,731.6 218.0,732.3 218.3,733.3 217.4,732.7 216.5,733.3 216.8,732.3 216.0,731.6 217.0,731.5" fill="#fff"/><polygon points="174.0,733.7 174.3,734.7 175.4,734.7 174.6,735.4 174.8,736.4 174.0,735.8 173.1,736.4 173.4,735.4 172.5,734.7 173.6,734.7" fill="#fff"/><polygon points="234.7,725.4 235.1,726.4 236.1,726.4 235.3,727.1 235.6,728.1 234.7,727.5 233.8,728.1 234.1,727.1 233.3,726.4 234.3,726.4" fill="#fff"/><polygon points="274.1,734.4 274.5,735.4 275.5,735.4 274.7,736.1 275.0,737.1 274.1,736.5 273.2,737.1 273.5,736.1 272.7,735.4 273.7,735.4" fill="#fff"/><polygon points="194.9,738.2 195.3,739.2 196.3,739.2 195.5,739.9 195.8,740.9 194.9,740.3 194.0,740.9 194.3,739.9 193.5,739.2 194.5,739.2" fill="#fff"/><polygon points="178.7,739.6 179.1,740.5 180.1,740.6 179.3,741.3 179.6,742.3 178.7,741.7 177.8,742.3 178.1,741.3 177.3,740.6 178.3,740.5" fill="#fff"/><polygon points="117.3,729.2 117.6,730.2 118.7,730.2 117.9,730.9 118.1,731.9 117.3,731.3 116.4,731.9 116.7,730.9 115.8,730.2 116.9,730.2" fill="#fff"/><polygon points="136.8,747.2 137.2,748.2 138.3,748.2 137.4,748.9 137.7,749.9 136.8,749.3 136.0,749.9 136.2,748.9 135.4,748.2 136.5,748.2" fill="#fff"/><polygon points="222.6,695.0 222.9,696.0 224.0,696.0 223.2,696.7 223.4,697.7 222.6,697.1 221.7,697.7 222.0,696.7 221.1,696.0 222.2,696.0" fill="#fff"/><polygon points="204.6,680.4 204.9,681.4 206.0,681.4 205.2,682.1 205.4,683.1 204.6,682.5 203.7,683.1 204.0,682.1 203.1,681.4 204.2,681.4" fill="#fff"/>
<polygon points="91.4,791.0 169.0,766.3 311.9,770.8 210.6,812.4" fill="#e8221f" stroke="#fff" stroke-width="1.6" stroke-linejoin="round"/>
<polygon points="91.4,791.0 210.6,812.4 210.6,832.6 91.4,809.0" fill="#f1f3f3"/>
<polygon points="210.6,812.4 311.9,770.8 311.9,787.6 210.6,832.6" fill="#eef0f0"/>
<path d="M91.4,791.5 L91.4,809.0 L210.6,833.3 L311.9,788.1" stroke="#5f6161" stroke-width="3.2" fill="none" stroke-linejoin="round"/>
<line x1="210.6" y1="813.5" x2="210.6" y2="832.6" stroke="#6a6c6c" stroke-width="2"/>
<path d="M171.3,762.2 C182.5,755.0 196.0,747.1 207.3,742.6 C223.0,741.5 245.5,747.1 256.8,753.2 C272.5,751.6 297.3,757.3 312.6,764.0 C304.0,770.8 290.5,777.5 278.1,782.5 C268.0,782.0 261.3,777.5 250.0,773.0 C241.0,770.8 232.0,773.0 225.3,776.8 C218.5,776.4 214.0,770.8 205.0,769.0 C191.5,767.4 178.0,765.1 171.3,762.2 Z" fill="#fff" stroke="#e9e9e9" stroke-width="0.8"/>
<path d="M227.5,762.9 C232.0,757.3 238.8,753.9 247.8,753.2 C241.0,756.1 235.4,759.5 230.9,764.0 Z" fill="#777"/>
<path d="M281.5,771.9 C286.0,766.3 295.0,762.9 304.0,762.9 C296.1,765.8 289.4,769.0 284.9,773.5 Z" fill="#777"/>
<path d="M88.0,818.0 L210.6,845.0 L316.4,795.5" stroke="#e8221f" stroke-width="3" fill="none" stroke-linejoin="miter"/>
<path d="M103.8,813.5 L88.0,818.0 L94.8,828.1" stroke="#e8221f" stroke-width="3" fill="none"/>
<path d="M304.0,794.4 L316.4,795.5 L315.3,807.2" stroke="#e8221f" stroke-width="3" fill="none"/>
</g>
<text x="320" y="774.7" font-size="33" font-weight="700" fill="#636363" textLength="130" lengthAdjust="spacingAndGlyphs">90 x 200</text>

</svg>
</body></html>
